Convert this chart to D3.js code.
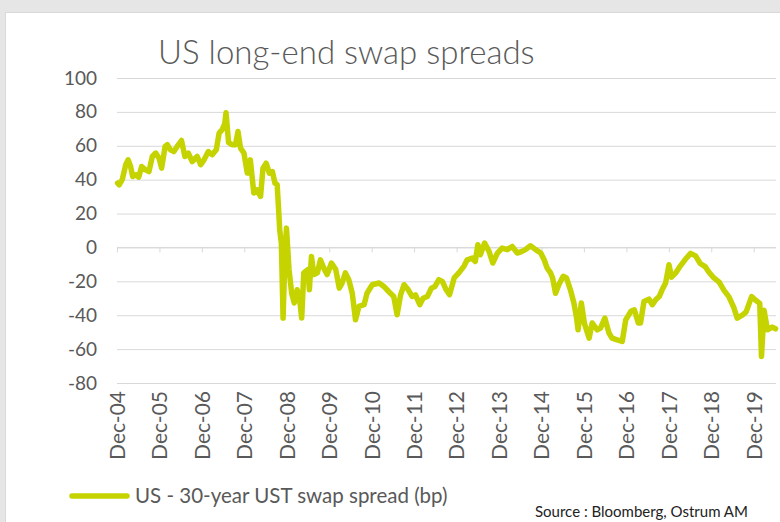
<!DOCTYPE html>
<html>
<head>
<meta charset="utf-8">
<script src="https://cdn.jsdelivr.net/npm/d3@7"></script>
<style>
  body { margin: 0; background: #e6e6e6; }
  svg text { font-family: Lato, "Open Sans", sans-serif; }
</style>
</head>
<body>
<div id="chart"></div>
<script>
const chartTitle = 'US long-end swap spreads';
const seriesName = 'US - 30-year UST swap spread (bp)';
const sourceText = 'Source : Bloomberg, Ostrum AM';

const xTickLabels = ['Dec-04', 'Dec-05', 'Dec-06', 'Dec-07', 'Dec-08', 'Dec-09', 'Dec-10', 'Dec-11',
  'Dec-12', 'Dec-13', 'Dec-14', 'Dec-15', 'Dec-16', 'Dec-17', 'Dec-18', 'Dec-19'];
const yTicks = [-80, -60, -40, -20, 0, 20, 40, 60, 80, 100];

// bp
const dates = [
  '2004-12-06', '2004-12-20', '2005-01-15', '2005-02-14', '2005-03-06', '2005-03-27', '2005-04-15', '2005-05-14',
  '2005-06-06', '2005-07-01', '2005-08-03', '2005-09-02', '2005-10-01', '2005-10-30', '2005-11-28', '2005-12-20',
  '2006-01-19', '2006-02-07', '2006-03-06', '2006-04-04', '2006-05-03', '2006-06-09', '2006-07-08', '2006-08-07',
  '2006-09-09', '2006-10-22', '2006-11-21', '2006-12-20', '2007-01-26', '2007-02-28', '2007-04-04', '2007-04-29',
  '2007-05-25', '2007-06-16', '2007-06-27', '2007-07-19', '2007-08-18', '2007-09-16', '2007-10-08', '2007-10-30',
  '2007-11-28', '2007-12-27', '2008-01-22', '2008-02-21', '2008-03-20', '2008-04-19', '2008-05-10', '2008-06-06',
  '2008-07-04', '2008-07-30', '2008-08-21', '2008-09-09', '2008-09-20', '2008-10-01', '2008-10-15', '2008-10-30',
  '2008-11-14', '2008-11-28', '2008-12-20', '2009-01-12', '2009-02-03', '2009-02-28', '2009-03-22', '2009-04-08',
  '2009-04-26', '2009-06-02', '2009-06-13', '2009-07-01', '2009-07-22', '2009-08-21', '2009-09-16', '2009-10-15',
  '2009-11-13', '2009-12-20', '2010-01-26', '2010-02-25', '2010-03-22', '2010-04-19', '2010-05-18', '2010-06-17',
  '2010-07-15', '2010-08-14', '2010-09-27', '2010-10-22', '2010-12-06', '2011-02-03', '2011-03-16', '2011-04-26',
  '2011-06-09', '2011-07-08', '2011-08-07', '2011-09-06', '2011-10-12', '2011-11-14', '2011-12-13', '2012-01-19',
  '2012-02-17', '2012-03-24', '2012-04-29', '2012-05-29', '2012-07-01', '2012-07-30', '2012-08-14', '2012-09-02',
  '2012-10-01', '2012-11-10', '2012-12-20', '2013-02-03', '2013-03-02', '2013-04-15', '2013-05-10', '2013-06-02',
  '2013-06-23', '2013-07-30', '2013-09-06', '2013-10-08', '2013-11-17', '2013-12-27', '2014-02-10', '2014-03-24',
  '2014-05-07', '2014-06-17', '2014-07-16', '2014-08-28', '2014-10-12', '2014-11-25', '2014-12-24', '2015-01-19',
  '2015-02-17', '2015-03-07', '2015-04-01', '2015-04-29', '2015-06-06', '2015-07-04', '2015-08-07', '2015-09-06',
  '2015-09-27', '2015-10-12', '2015-11-09', '2015-12-06', '2016-01-15', '2016-02-10', '2016-03-25', '2016-04-22',
  '2016-05-29', '2016-07-04', '2016-07-30', '2016-09-13', '2016-10-26', '2016-11-25', '2017-01-08', '2017-02-07',
  '2017-03-13', '2017-04-01', '2017-05-01', '2017-06-13', '2017-07-12', '2017-08-10', '2017-09-09', '2017-10-04',
  '2017-11-03', '2017-11-25', '2017-12-02', '2017-12-24', '2018-01-30', '2018-03-09', '2018-04-22', '2018-06-06',
  '2018-07-19', '2018-08-28', '2018-10-12', '2018-11-10', '2018-12-24', '2019-02-07', '2019-03-22', '2019-05-01',
  '2019-06-13', '2019-07-12', '2019-08-25', '2019-09-27', '2019-11-13', '2019-12-16', '2020-01-22', '2020-02-06',
  '2020-02-28', '2020-03-28', '2020-05-08', '2020-06-06'
];
const spreads = [
  38, 37, 40, 48.8, 51.7, 48, 41.9, 42.9,
  41.5, 47.8, 45.8, 44.8, 53.7, 55.7, 52.7, 46.8,
  59.6, 60.6, 57.6, 56.6, 59.6, 63.1, 53.7, 55.7,
  50.7, 53.7, 48.8, 51.7, 56.6, 54.7, 57.6, 67.5,
  69.5, 73, 79.5, 62, 60.6, 60.6, 68.4, 58.6,
  55.7, 43.9, 51.7, 32.1, 34, 30.1, 46.8, 49.7,
  43.9, 44.8, 38, 37, 24.2, 10.4, 2.5, -41.7,
  -7.3, 11.4, -13, -27, -32.8, -25, -31, -41.7,
  -15, -13, -25, -5.3, -16, -15, -7.3, -12.2,
  -16, -9.2, -13, -24, -21, -15, -19, -27,
  -42.7, -34.8, -33.8, -27, -22, -21, -23, -26,
  -28.9, -39.7, -28, -22, -25, -28.9, -28, -33.8,
  -30, -28.9, -24, -23, -19, -20, -22, -25,
  -27.9, -18, -15, -11, -7.3, -6.3, -8.3, 1.6,
  -4.3, 2.6, -2.3, -9.2, -3.3, -0.4, -1.3, 0.6,
  -3.3, -2.3, -1.3, 1, -1.3, -3.3, -7.3, -12.2,
  -15, -18, -27, -22, -17, -18, -25, -32.8,
  -40.7, -48.6, -32.8, -45, -53.5, -44.6, -48.6, -47.6,
  -41.7, -50.5, -53.5, -54.5, -55.5, -42.7, -37.7, -36.8,
  -44.6, -44.6, -31.9, -30.5, -33.8, -30.9, -29, -25,
  -21, -13, -10.2, -17.5, -15, -11, -7, -3.5,
  -5, -9.5, -11.5, -14.5, -18, -20.5, -25.5, -29,
  -35.5, -41.7, -40, -38, -29, -31, -33, -64.3,
  -37, -48.6, -47, -48
];

const W = 780, H = 522;
const margin = { top: 78, right: 4, bottom: 139, left: 117 };
const plotW = W - margin.left - margin.right;
const plotH = H - margin.top - margin.bottom;
const lineColor = '#c5d300';
const textColor = '#595959';
const gridColor = '#d9d9d9';

const parseTick = d3.timeParse('%b-%y');
const parseDay = d3.timeParse('%Y-%m-%d');
const tickDates = xTickLabels.map(parseTick);
const data = dates.map((d, i) => ({ date: parseDay(d), value: spreads[i] }));

const svg = d3.select('#chart').append('svg')
  .attr('width', W)
  .attr('height', H);

svg.append('rect')
  .attr('x', 5.5).attr('y', 12.5)
  .attr('width', W).attr('height', H)
  .attr('fill', '#fff')
  .attr('stroke', gridColor);

svg.append('text')
  .attr('x', 158).attr('y', 64)
  .attr('font-size', 33)
  .attr('font-weight', 300)
  .attr('fill', textColor)
  .text(chartTitle);

const g = svg.append('g')
  .attr('transform', `translate(${margin.left},${margin.top})`);

const x = d3.scaleTime()
  .domain([tickDates[0], tickDates[tickDates.length - 1]])
  .range([0, 636.7]);

const y = d3.scaleLinear()
  .domain([-80, 100])
  .range([plotH, 0]);

// gridlines + y labels (plain hyphen for negatives, as in the original)
const yAxis = g.append('g')
  .call(d3.axisLeft(y).tickValues(yTicks).tickSize(-plotW).tickPadding(20).tickFormat(d => String(d)));
yAxis.select('.domain').remove();
yAxis.selectAll('line').attr('stroke', gridColor);
yAxis.selectAll('text')
  .attr('fill', textColor)
  .style('font-size', '19px');

// zero axis with tick marks
const zeroAxis = g.append('g')
  .attr('transform', `translate(0,${y(0)})`)
  .call(d3.axisBottom(x).tickValues(tickDates).tickSize(5).tickSizeOuter(0).tickFormat(''));
zeroAxis.select('.domain').attr('stroke', gridColor).attr('d', `M0,0H${plotW}`);
zeroAxis.selectAll('line').attr('stroke', gridColor);

// date labels at the bottom
const xLabels = g.append('g')
  .attr('transform', `translate(0,${plotH})`)
  .call(d3.axisBottom(x).tickValues(tickDates).tickSize(0).tickFormat((d, i) => xTickLabels[i]));
xLabels.select('.domain').remove();
xLabels.selectAll('text')
  .attr('transform', 'rotate(-90)')
  .attr('x', -8)
  .attr('y', 0)
  .attr('dy', '0.35em')
  .attr('text-anchor', 'end')
  .attr('fill', textColor)
  .style('font-size', '21px');

g.append('path')
  .datum(data)
  .attr('fill', 'none')
  .attr('stroke', lineColor)
  .attr('stroke-width', 5.5)
  .attr('stroke-linejoin', 'round')
  .attr('stroke-linecap', 'round')
  .attr('d', d3.line()
    .x(d => x(d.date))
    .y(d => y(d.value)));

// legend
const legend = svg.append('g').attr('transform', 'translate(72,496)');
legend.append('line')
  .attr('x1', 0).attr('x2', 55)
  .attr('stroke', lineColor)
  .attr('stroke-width', 5.5)
  .attr('stroke-linecap', 'round');
legend.append('text')
  .attr('x', 63).attr('dy', '0.35em')
  .attr('font-size', 20.5)
  .attr('fill', textColor)
  .text(seriesName);

svg.append('text')
  .attr('x', 535).attr('y', 517)
  .attr('font-size', 15)
  .attr('fill', '#222')
  .text(sourceText);
</script>
</body>
</html>
